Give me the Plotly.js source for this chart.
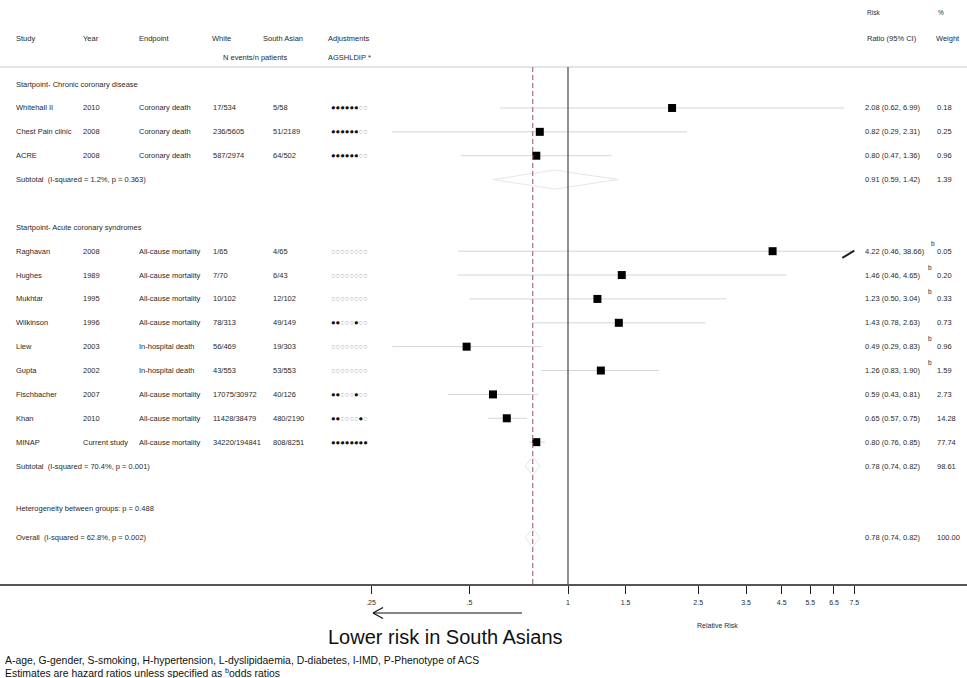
<!DOCTYPE html>
<html><head><meta charset="utf-8">
<script src="https://cdn.plot.ly/plotly-3.0.1.min.js"></script>
<style>html,body{margin:0;padding:0;background:#fff}#chart{width:967px;height:678px}</style>
</head><body><div id="chart"></div>
<script>
// ---------------- DATA ----------------
const studies = ["Whitehall II","Chest Pain clinic","ACRE","Raghavan","Hughes","Mukhtar","Wilkinson","Liew","Gupta","Fischbacher","Khan","MINAP"];
const years = ["2010","2008","2008","2008","1989","1995","1996","2003","2002","2007","2010","Current study"];
const endpoints = ["Coronary death","Coronary death","Coronary death","All-cause mortality","All-cause mortality","All-cause mortality","All-cause mortality","In-hospital death","In-hospital death","All-cause mortality","All-cause mortality","All-cause mortality"];
const whiteEvents = ["17/534","236/5605","587/2974","1/65","7/70","10/102","78/313","56/469","43/553","17075/30972","11428/38479","34220/194841"];
const southAsianEvents = ["5/58","51/2189","64/502","4/65","6/43","12/102","49/149","19/303","53/553","40/126","480/2190","808/8251"];
const adjustments = ["11111100","11111100","11111100","00000000","00000000","00000000","11000100","00000000","00000000","11000100","11000010","11111111"];
const rr = [2.08,0.82,0.80,4.22,1.46,1.23,1.43,0.49,1.26,0.59,0.65,0.80];
const ciLow = [0.62,0.29,0.47,0.46,0.46,0.50,0.78,0.29,0.83,0.43,0.57,0.76];
const ciHigh = [6.99,2.31,1.36,38.66,4.65,3.04,2.63,0.83,1.90,0.81,0.75,0.85];
const weights = [0.18,0.25,0.96,0.05,0.20,0.33,0.73,0.96,1.59,2.73,14.28,77.74];
const oddsRatio = [false,false,false,true,true,true,false,true,true,false,false,false];
const groupOf = [1,1,1,2,2,2,2,2,2,2,2,2];

const groupTitles = ["Startpoint- Chronic coronary disease","Startpoint- Acute coronary syndromes"];
const subtotalLabels = ["Subtotal  (I-squared = 1.2%, p = 0.363)","Subtotal  (I-squared = 70.4%, p = 0.001)"];
const subtotalRR = [0.91,0.78];
const subtotalLow = [0.59,0.74];
const subtotalHigh = [1.42,0.82];
const subtotalWeight = [1.39,98.61];
const heterogeneityText = "Heterogeneity between groups: p = 0.488";
const overallLabel = "Overall  (I-squared = 62.8%, p = 0.002)";
const overallRR = 0.78, overallLow = 0.74, overallHigh = 0.82, overallWeight = 100.00;

const tickValues = [0.25,0.5,1,1.5,2.5,3.5,4.5,5.5,6.5,7.5];
const tickLabels = [".25",".5","1","1.5","2.5","3.5","4.5","5.5","6.5","7.5"];
const clipMax = 7.5;

// ---------------- LAYOUT GEOMETRY ----------------
const W = 967, H = 678;
const FONT = '"Liberation Sans", Arial, Helvetica, sans-serif';
const TXT = '#2a2a2a';
const axisY = 584, rowTop = 84.1, rowH = 23.87;
const xOne = 568, pxPerDecade = 327.2;
const xRange = [(0 - xOne) / pxPerDecade, (W - xOne) / pxPerDecade];
const yRange = [(axisY - rowTop) / rowH, (0 - rowTop) / rowH];
const px = v => v / W;
const py = v => (H - v) / H;
const fmt = v => v.toFixed(2);

// rows
const groupStart = [1, 7];
const studyRows = [];
const counters = [0, 0];
groupOf.forEach(g => { studyRows.push(groupStart[g-1] + counters[g-1]); counters[g-1]++; });
const titleRows = [0, 6];
const subtotalRows = [4, 16];
const heterogeneityRow = 17.8;
const overallRow = 19;

const annotations = [];
function txt(x, y, text, o = {}) {
  annotations.push(Object.assign({
    xref: 'paper', yref: o.yref || 'y', x: px(x), y: y, text: text,
    showarrow: false, xanchor: 'left', yanchor: 'middle', borderpad: 0,
    font: {family: FONT, size: o.size || 7.5, color: o.color || TXT}
  }, o.extra || {}));
}
function hdr(x, y, text, size) { txt(x, py(y), text, {yref: 'paper', size: size || 7.5}); }

// headers
hdr(15, 38, "Study"); hdr(82, 38, "Year"); hdr(138, 38, "Endpoint");
hdr(211, 38, "White"); hdr(262, 38, "South Asian"); hdr(327, 38, "Adjustments");
hdr(222, 57, "N events/n patients"); hdr(327, 57, "AGSHLDIP *");
hdr(866, 12, "Risk", 6.5); hdr(937, 12, "%", 6.5);
hdr(866, 38, "Ratio (95% CI)"); hdr(935, 38, "Weight");

// group titles
groupTitles.forEach((t, i) => txt(15, titleRows[i], t));

// study rows
studies.forEach((s, i) => {
  const r = studyRows[i];
  txt(15, r, s);
  txt(82, r, years[i]);
  txt(138, r, endpoints[i]);
  txt(212, r, whiteEvents[i]);
  txt(272, r, southAsianEvents[i]);
  const dots = adjustments[i].split('').map(c => c === '1'
    ? '<span style="color:#111">●</span>' : '<span style="color:#9a9a9a">○</span>').join('');
  txt(330, r, dots, {size: 7.6});
  const rt = fmt(rr[i]) + " (" + fmt(ciLow[i]) + ", " + fmt(ciHigh[i]) + ")";
  txt(864, r, rt);
  if (oddsRatio[i]) txt(864 + 3.62 * rt.length + 1, r - 0.33, "b", {size: 6.5});
  txt(936, r, fmt(weights[i]));
});

// subtotals
subtotalLabels.forEach((t, i) => {
  const r = subtotalRows[i];
  txt(15, r, t);
  txt(864, r, fmt(subtotalRR[i]) + " (" + fmt(subtotalLow[i]) + ", " + fmt(subtotalHigh[i]) + ")");
  txt(936, r, fmt(subtotalWeight[i]));
});
txt(15, heterogeneityRow, heterogeneityText);
txt(15, overallRow, overallLabel);
txt(864, overallRow, fmt(overallRR) + " (" + fmt(overallLow) + ", " + fmt(overallHigh) + ")");
txt(936, overallRow, overallWeight.toFixed(2));

// bottom texts
annotations.push({xref:'paper', yref:'paper', x: px(717), y: py(625), text: "Relative Risk",
  showarrow:false, xanchor:'center', yanchor:'middle', font:{family:FONT, size:7, color:TXT}});
annotations.push({xref:'paper', yref:'paper', x: px(445), y: py(637), text: "Lower risk in South Asians",
  showarrow:false, xanchor:'center', yanchor:'middle', font:{family:FONT, size:20, color:'#111'}});
annotations.push({xref:'paper', yref:'paper', x: px(3), y: py(660), text: "A-age, G-gender, S-smoking, H-hypertension, L-dyslipidaemia, D-diabetes, I-IMD, P-Phenotype of ACS",
  showarrow:false, xanchor:'left', yanchor:'middle', font:{family:FONT, size:10.4, color:'#111'}});
annotations.push({xref:'paper', yref:'paper', x: px(3), y: py(672), text: "Estimates are hazard ratios unless specified as <sup>b</sup>odds ratios",
  showarrow:false, xanchor:'left', yanchor:'middle', font:{family:FONT, size:10.4, color:'#111'}});

// ---------------- TRACES ----------------
const ciX = [], ciY = [];
rr.forEach((v, i) => { ciX.push(ciLow[i], Math.min(ciHigh[i], clipMax), null); ciY.push(studyRows[i], studyRows[i], null); });

const dX = [], dY = [];
function diamond(lo, est, hi, r) { dX.push(lo, est, hi, est, lo, null); dY.push(r, r - 0.4, r, r + 0.4, r, null); }
subtotalRR.forEach((v, i) => diamond(subtotalLow[i], v, subtotalHigh[i], subtotalRows[i]));
diamond(overallLow, overallRR, overallHigh, overallRow);

const traces = [
  {type:'scatter', mode:'lines', x: ciX, y: ciY, line:{color:'#d6d6d6', width:1}, hoverinfo:'skip', showlegend:false},
  {type:'scatter', mode:'lines', x: dX, y: dY, line:{color:'#e6e6e6', width:1}, hoverinfo:'skip', showlegend:false},
  {type:'scatter', mode:'markers', x: rr, y: studyRows, marker:{symbol:'square', size:8, color:'#000'}, hoverinfo:'skip', showlegend:false}
];

// shapes (data values on the log axis)
const shapes = [
  {type:'line', xref:'paper', yref:'paper', x0:0, x1:1, y0:py(67), y1:py(67), line:{color:'#c8c8c8', width:1}},
  {type:'line', xref:'x', yref:'paper', x0:1, x1:1, y0:py(67), y1:py(axisY), line:{color:'#555', width:1.3}},
  {type:'line', xref:'x', yref:'paper', x0:overallRR, x1:overallRR, y0:py(67), y1:py(axisY), line:{color:'#b07080', width:1.2, dash:'5px,3px'}},
  // "lower risk" arrow
  {type:'line', xref:'paper', yref:'paper', x0:px(373), x1:px(522), y0:py(613), y1:py(613), line:{color:'#111', width:1.2}},
  {type:'line', xref:'paper', yref:'paper', x0:px(373), x1:px(383), y0:py(613), y1:py(607.5), line:{color:'#111', width:1.2}},
  {type:'line', xref:'paper', yref:'paper', x0:px(373), x1:px(383), y0:py(613), y1:py(618.5), line:{color:'#111', width:1.2}}
];
// truncation arrow for CIs beyond the axis
ciHigh.forEach((h, i) => {
  if (h > clipMax) {
    shapes.push({type:'line', xref:'x', yref:'y', x0: clipMax / Math.pow(10, 12 / pxPerDecade), y0: studyRows[i] + 0.28,
      x1: clipMax, y1: studyRows[i] - 0.02, line:{color:'#222', width:2}});
  }
});

const layout = {
  width: W, height: H, margin:{l:0, r:0, t:0, b:0, pad:0},
  paper_bgcolor:'#fff', plot_bgcolor:'rgba(0,0,0,0)', showlegend:false,
  font:{family:FONT, color:TXT},
  xaxis:{type:'log', range:xRange, domain:[0,1], showgrid:false, zeroline:false,
    showline:true, linecolor:'#555', linewidth:1.5, ticks:'outside', ticklen:8, tickwidth:1, tickcolor:'#222',
    tickvals: tickValues, ticktext: tickLabels, tickfont:{family:FONT, size:7, color:TXT}, ticklabelstandoff:3, fixedrange:true},
  yaxis:{range:yRange, domain:[(H - axisY) / H, 1], visible:false, fixedrange:true},
  shapes: shapes, annotations: annotations
};

Plotly.newPlot('chart', traces, layout, {staticPlot:true, displayModeBar:false});
</script>
</body></html>
